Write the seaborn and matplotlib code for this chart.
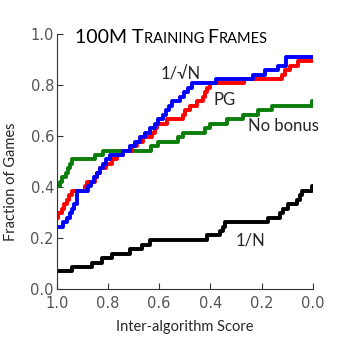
import matplotlib
matplotlib.use("Agg")
import matplotlib.pyplot as plt
import seaborn as sns
import pandas as pd

# -------------------------------
# Data
# -------------------------------
# step curves: score where the step happens -> fraction of games from there on
inv_sqrt_scores = [1.0, 0.975, 0.961, 0.948, 0.940, 0.932, 0.922, 0.878, 0.866, 0.854, 0.843, 0.831,
                   0.819, 0.807, 0.791, 0.741, 0.714, 0.694, 0.675, 0.655, 0.636, 0.616, 0.604, 0.585,
                   0.573, 0.561, 0.550, 0.518, 0.503, 0.487, 0.471, 0.378, 0.233, 0.186, 0.135, 0.104]
inv_sqrt_frac = [0.246, 0.263, 0.281, 0.298, 0.316, 0.333, 0.386, 0.404, 0.421, 0.439, 0.456, 0.474,
                 0.491, 0.509, 0.526, 0.544, 0.561, 0.579, 0.596, 0.614, 0.632, 0.649, 0.667, 0.684,
                 0.702, 0.719, 0.737, 0.754, 0.772, 0.789, 0.807, 0.825, 0.842, 0.860, 0.877, 0.912]

pg_scores = [1.0, 0.995, 0.980, 0.971, 0.961, 0.952, 0.941, 0.889, 0.883, 0.850, 0.843, 0.831,
             0.807, 0.785, 0.766, 0.740, 0.707, 0.688, 0.662, 0.629, 0.616, 0.609, 0.570, 0.507,
             0.499, 0.479, 0.452, 0.428, 0.421, 0.413, 0.401, 0.268, 0.121, 0.108, 0.089, 0.057]
pg_frac = [0.281, 0.298, 0.316, 0.333, 0.351, 0.368, 0.386, 0.404, 0.421, 0.439, 0.456, 0.474,
           0.491, 0.509, 0.526, 0.544, 0.561, 0.579, 0.596, 0.614, 0.632, 0.649, 0.667, 0.684,
           0.702, 0.719, 0.737, 0.754, 0.772, 0.789, 0.807, 0.825, 0.842, 0.860, 0.877, 0.895]

nobonus_scores = [1.0, 0.987, 0.979, 0.964, 0.956, 0.948, 0.940, 0.850, 0.819, 0.632, 0.604, 0.526,
                  0.507, 0.421, 0.401, 0.335, 0.272, 0.214, 0.159, 0.003]
nobonus_frac = [0.404, 0.421, 0.439, 0.456, 0.474, 0.491, 0.509, 0.526, 0.544, 0.561, 0.579, 0.596,
                0.614, 0.632, 0.649, 0.667, 0.684, 0.702, 0.719, 0.737]

inv_n_scores = [1.0, 0.941, 0.863, 0.824, 0.785, 0.714, 0.668, 0.636, 0.414, 0.362, 0.350, 0.342,
                0.174, 0.127, 0.116, 0.096, 0.061, 0.049, 0.042, 0.003]
inv_n_frac = [0.070, 0.088, 0.105, 0.123, 0.140, 0.158, 0.175, 0.193, 0.211, 0.228, 0.246, 0.263,
              0.281, 0.298, 0.316, 0.333, 0.351, 0.368, 0.386, 0.404]

series_names = ["1/N", "No bonus", "PG", "1/\u221aN"]
series_colors = ["black", "#0a7d0a", "#ff0000", "#0000ff"]

TEXT_FONT = ["Lato", "DejaVu Sans"]


def make_frame(name, scores, frac):
    # add the end point at score 0 so the last step runs to the edge
    xs = list(scores) + [0.0]
    ys = list(frac) + [frac[-1]]
    return pd.DataFrame({"score": xs, "frac": ys, "method": name})


def draw_smallcaps(fig, x, y, parts, color="black"):
    """parts: list of (text, size); drawn left to right on one baseline."""
    renderer = fig.canvas.get_renderer()
    for txt, size in parts:
        t = fig.text(x, y, txt, fontsize=size, family=TEXT_FONT, color=color,
                     ha="left", va="baseline")
        bb = t.get_window_extent(renderer=renderer)
        x += bb.width / fig.bbox.width


def main():
    sns.set_style("ticks")
    plt.rcParams["xtick.direction"] = "in"
    plt.rcParams["ytick.direction"] = "in"

    fig = plt.figure(figsize=(3.46, 3.37), dpi=100)
    ax = fig.add_axes([0.164, 0.1415, 0.740, 0.757])

    frames = [
        make_frame(series_names[0], inv_n_scores, inv_n_frac),
        make_frame(series_names[1], nobonus_scores, nobonus_frac),
        make_frame(series_names[2], pg_scores, pg_frac),
        make_frame(series_names[3], inv_sqrt_scores, inv_sqrt_frac),
    ]
    for df, color in zip(frames, series_colors):
        sns.lineplot(data=df, x="score", y="frac", sort=False, color=color,
                     drawstyle="steps-post", linewidth=2.8, ax=ax, legend=False)

    ax.set_xlim(1.0, 0.0)
    ax.set_ylim(0.0, 1.0)
    ax.set_xticks([1.0, 0.8, 0.6, 0.4, 0.2, 0.0])
    ax.set_yticks([0.0, 0.2, 0.4, 0.6, 0.8, 1.0])
    ax.set_xticklabels(["1.0", "0.8", "0.6", "0.4", "0.2", "0.0"])
    ax.set_yticklabels(["0.0", "0.2", "0.4", "0.6", "0.8", "1.0"])
    ax.tick_params(axis="both", labelsize=10.5, labelcolor="#555555", length=4,
                   width=0.8, color="#333333")
    ax.tick_params(axis="x", pad=5)
    ax.tick_params(axis="y", pad=2)
    sns.despine(ax=ax)
    for side in ["left", "bottom"]:
        ax.spines[side].set_color("#333333")
        ax.spines[side].set_linewidth(0.8)

    ax.set_xlabel("Inter-algorithm Score", family=TEXT_FONT, fontsize=10.5)
    ax.set_ylabel("Fraction of Games", family=TEXT_FONT, fontsize=10.5)
    ax.xaxis.set_label_coords(0.5, -0.12)
    ax.yaxis.set_label_coords(-0.15, 0.42)

    # curve labels
    ax.text(0.596, 0.844, "1/\u221aN", family=TEXT_FONT, fontsize=12, ha="left", va="center")
    ax.text(0.389, 0.742, "PG", family=TEXT_FONT, fontsize=12, ha="left", va="center")
    ax.text(0.253, 0.640, "No bonus", family=TEXT_FONT, fontsize=12, ha="left", va="center")
    ax.text(0.303, 0.193, "1/N", family=TEXT_FONT, fontsize=12, ha="left", va="center")

    # title in small caps
    big, small = 14, 10.5
    draw_smallcaps(fig, 0.217, 0.873, [
        ("100M ", big), ("T", big), ("RAINING ", small), ("F", big), ("RAMES", small)])

    fig.savefig("out.png", dpi=100)
    plt.close(fig)


if __name__ == "__main__":
    main()
